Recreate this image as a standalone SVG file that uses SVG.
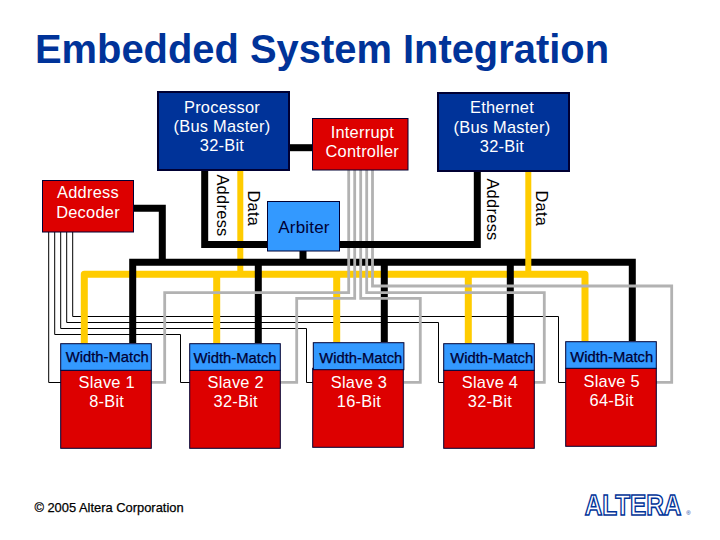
<svg xmlns="http://www.w3.org/2000/svg" width="720" height="540" viewBox="0 0 720 540">
<style>
text{font-family:"Liberation Sans",Arial,sans-serif;text-anchor:middle}
.w{fill:#fff;font-size:16.4px;letter-spacing:.25px}
.n{fill:#000033;stroke:#000033;stroke-width:.25;font-size:14.8px}
.k{fill:#000;font-size:16.4px;letter-spacing:.3px}
.master{fill:#003399;stroke:#000033;stroke-width:2}
.red{fill:#DD0000;stroke:#000033;stroke-width:1}
.blue{fill:#3399FF;stroke:#000033;stroke-width:1}
.c{fill:none;stroke-linejoin:miter}
.bk{stroke:#000;stroke-width:7}
.yl{stroke:#FFCC00;stroke-width:7;stroke-linejoin:round}
.yt{stroke:#FFCC00;stroke-width:6}
.gr{stroke:#B2B2B2;stroke-width:2.8}
.th{stroke:#000;stroke-width:1}
</style>
<rect width="720" height="540" fill="#fff"/>
<text x="322" y="63" style="font-size:39.9px;font-weight:bold;fill:#003399">Embedded System Integration</text>
<g id="connectors" class="c">
<g class="th">
<path d="M48.7 232V382.5H61"/>
<path d="M54.7 232V334.5H180.5V382.5H190"/>
<path d="M60.7 232V328.5H306.5V382.5H313"/>
<path d="M66.7 232V322.5H438.5V382.5H444"/>
<path d="M72.7 232V316.5H558.5V382.5H566"/>
</g>
<path class="yt" d="M240.3 170V274"/>
<g class="yl">
<path d="M84.3 343V274.3H585V341"/>
<path d="M216.7 274V343"/>
<path d="M336.7 274V342"/>
<path d="M468.3 274V343"/>
</g>
<g class="bk">
<path d="M289 147.7H312"/>
<path d="M134 208.3H162.3V262"/>
<path d="M132.7 343V262.3H632.3V341"/>
<path d="M258.3 262V343"/>
<path d="M384.3 262V342"/>
<path d="M510.3 262V343"/>
<path d="M303 251V262"/>
<path d="M204.7 170V244.4H267"/>
</g>
<path class="yt" d="M528.3 171V274"/>
<g class="gr">
<path d="M151 382.3H164.7V292.7H348.7V170"/>
<path d="M280 382.3H296.7V298.3H354.7V170"/>
<path d="M404 382.3H420.3V298.3H360.7V170"/>
<path d="M534 382.3H544.3V292.7H366.7V170"/>
<path d="M656 382.3H671.7V286H372.5V170"/>
</g>
<path class="bk" d="M339 244.4H477.3V171"/>
</g>
<g id="processor">
<rect class="master" x="158" y="92" width="131" height="78"/>
<text class="w" x="222" y="112.7">Processor</text>
<text class="w" x="222" y="131.7">(Bus Master)</text>
<text class="w" x="222" y="151">32-Bit</text>
</g>
<g id="interrupt-controller">
<rect class="red" x="312.5" y="118.5" width="95.5" height="51.5"/>
<text class="w" x="362.3" y="137.7">Interrupt</text>
<text class="w" x="362.3" y="156.7">Controller</text>
</g>
<g id="ethernet">
<rect class="master" x="438" y="93" width="131" height="78"/>
<text class="w" x="502" y="113.3">Ethernet</text>
<text class="w" x="502" y="132.7">(Bus Master)</text>
<text class="w" x="502" y="151.7">32-Bit</text>
</g>
<g id="address-decoder">
<rect class="red" x="42.5" y="180.5" width="91" height="51.5"/>
<text class="w" x="88" y="198.3">Address</text>
<text class="w" x="88" y="217.7">Decoder</text>
</g>
<g id="arbiter">
<rect class="blue" x="267.5" y="201.5" width="72" height="49.5"/>
<text x="304" y="232.7" style="fill:#000033;font-size:17px;letter-spacing:.2px">Arbiter</text>
</g>
<g id="labels">
<text class="k" transform="translate(217 205.5) rotate(90)">Address</text>
<text class="k" transform="translate(248 208.3) rotate(90)">Data</text>
<text class="k" transform="translate(487 209.5) rotate(90)">Address</text>
<text class="k" transform="translate(536 208.3) rotate(90)">Data</text>
</g>
<g id="slave-1">
<rect class="red" x="60.7" y="370.3" width="90.6" height="78"/>
<rect class="blue" x="60.7" y="343.7" width="90.6" height="26.6"/>
<text class="n" x="107.3" y="361.7">Width-Match</text>
<text class="w" x="106.7" y="388">Slave 1</text>
<text class="w" x="106.7" y="407">8-Bit</text>
</g>
<g id="slave-2">
<rect class="red" x="189.7" y="370.3" width="90.6" height="78"/>
<rect class="blue" x="189.7" y="343.7" width="90.6" height="26.6"/>
<text class="n" x="235" y="362.7">Width-Match</text>
<text class="w" x="235.7" y="388">Slave 2</text>
<text class="w" x="235.7" y="407">32-Bit</text>
</g>
<g id="slave-3">
<rect class="red" x="312.7" y="368.3" width="90.6" height="79"/>
<rect class="blue" x="313.3" y="342.7" width="90.6" height="27"/>
<text class="n" x="360.8" y="362.7">Width-Match</text>
<text class="w" x="359" y="387.7">Slave 3</text>
<text class="w" x="359" y="406.7">16-Bit</text>
</g>
<g id="slave-4">
<rect class="red" x="443.7" y="370.3" width="90.6" height="78"/>
<rect class="blue" x="443.7" y="343.7" width="90.6" height="26.6"/>
<text class="n" x="491.7" y="362.7">Width-Match</text>
<text class="w" x="490" y="388">Slave 4</text>
<text class="w" x="490" y="407">32-Bit</text>
</g>
<g id="slave-5">
<rect class="red" x="565.7" y="368.3" width="90.6" height="78"/>
<rect class="blue" x="565.7" y="341.7" width="90.6" height="26.6"/>
<text class="n" x="611.7" y="361.7">Width-Match</text>
<text class="w" x="611.7" y="386.7">Slave 5</text>
<text class="w" x="611.7" y="405.7">64-Bit</text>
</g>
<text x="109" y="512" style="font-size:12.9px;fill:#000;stroke:#000;stroke-width:.25">© 2005 Altera Corporation</text>
<g id="logo">
<text transform="translate(633 515) scale(.81 1)" style="font-size:30px;font-weight:bold;fill:#fff;stroke:#003399;stroke-width:1.6">ALTERA</text>
<text x="688.5" y="515" style="font-size:6px;fill:#003399">®</text>
</g>
</svg>
